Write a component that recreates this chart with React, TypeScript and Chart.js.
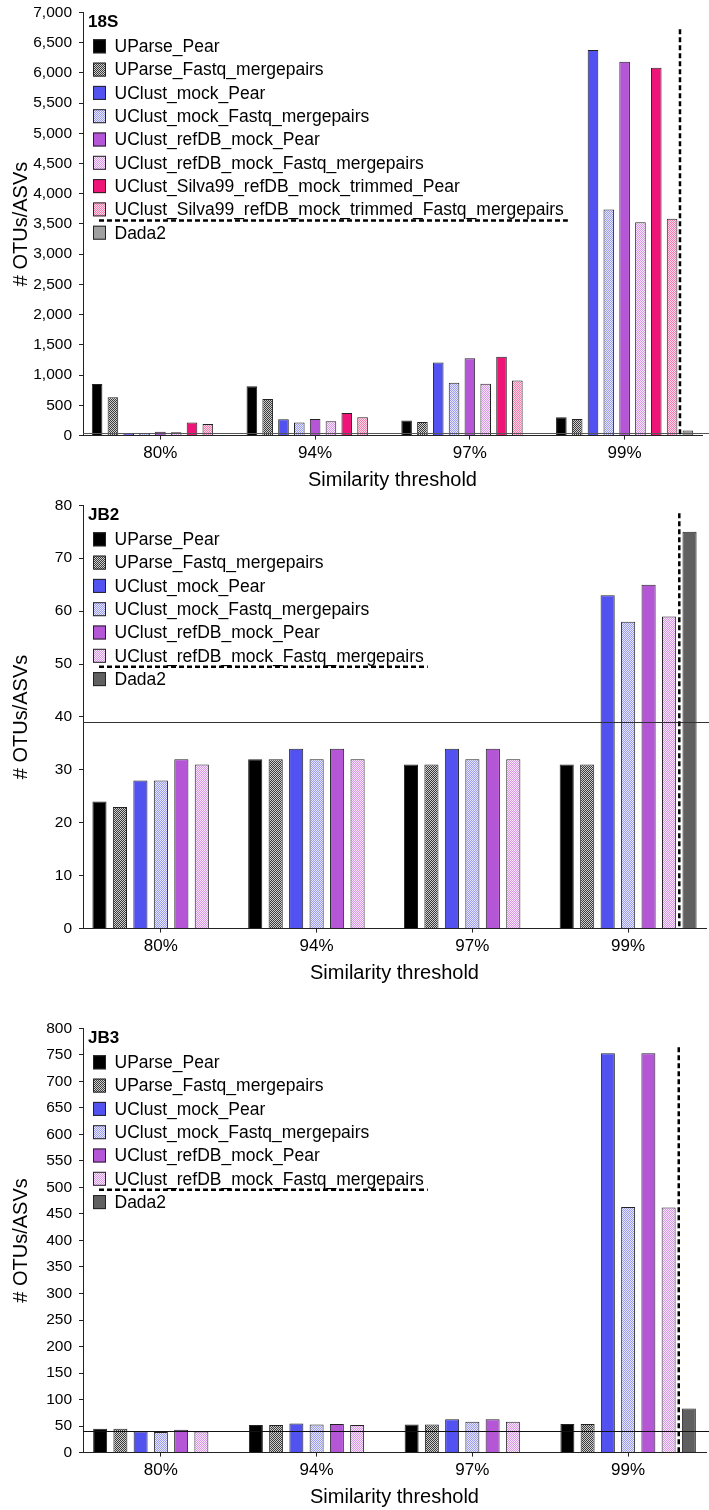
import React, { useEffect, useRef } from 'react';
import { Chart, registerables } from 'chart.js';

Chart.register(...registerables);

const FONT = '"Liberation Sans", Arial, sans-serif';

// ---------- data ----------
const categories = ['80%', '94%', '97%', '99%'];

const methods18S = [
  'UParse_Pear',
  'UParse_Fastq_mergepairs',
  'UClust_mock_Pear',
  'UClust_mock_Fastq_mergepairs',
  'UClust_refDB_mock_Pear',
  'UClust_refDB_mock_Fastq_mergepairs',
  'UClust_Silva99_refDB_mock_trimmed_Pear',
  'UClust_Silva99_refDB_mock_trimmed_Fastq_mergepairs',
  'Dada2',
];
const methodsJB = [
  'UParse_Pear',
  'UParse_Fastq_mergepairs',
  'UClust_mock_Pear',
  'UClust_mock_Fastq_mergepairs',
  'UClust_refDB_mock_Pear',
  'UClust_refDB_mock_Fastq_mergepairs',
  'Dada2',
];

// 18S
const s18UParsePear = [855, 817, 248, 304];
const s18UParseFastq = [635, 607, 226, 276];
const s18MockPear = [35, 270, 1209, 6376];
const s18MockFastq = [35, 215, 872, 3737];
const s18RefDBPear = [65, 276, 1281, 6183];
const s18RefDBFastq = [55, 237, 856, 3528];
const s18SilvaPear = [215, 375, 1303, 6084];
const s18SilvaFastq = [190, 304, 911, 3588];
const s18Dada2 = [null, null, null, 83];
const s18Expected = 44;
const s18Ticks = { max: 7000, step: 500 };

// JB2
const jb2UParsePear = [24, 32, 31, 31];
const jb2UParseFastq = [23, 32, 31, 31];
const jb2MockPear = [28, 34, 34, 63];
const jb2MockFastq = [28, 32, 32, 58];
const jb2RefDBPear = [32, 34, 34, 65];
const jb2RefDBFastq = [31, 32, 32, 59];
const jb2Dada2 = [null, null, null, 75];
const jb2Expected = 39;
const jb2Ticks = { max: 80, step: 10 };

// JB3
const jb3UParsePear = [45, 52, 53, 54];
const jb3UParseFastq = [45, 52, 53, 54];
const jb3MockPear = [40, 55, 63, 753];
const jb3MockFastq = [39, 53, 58, 463];
const jb3RefDBPear = [43, 54, 63, 753];
const jb3RefDBFastq = [40, 52, 58, 462];
const jb3Dada2 = [null, null, null, 83];
const jb3Expected = 41;
const jb3Ticks = { max: 800, step: 50 };

// ---------- styles ----------
type Fill = { solid?: string; a?: string; b?: string };
const fillsCommon: Fill[] = [
  { solid: '#000000' },
  { a: '#3a3a3a', b: '#cfcfcf' },
  { solid: '#5252f0' },
  { a: '#9c9cec', b: '#e6e6ff' },
  { solid: '#b456d6' },
  { a: '#d49ae6', b: '#fae4fc' },
];
const fillsSilva: Fill[] = [{ solid: '#ee1478' }, { a: '#f07cb0', b: '#ffd6e6' }];

function makeFill(ctx: CanvasRenderingContext2D, f: Fill): any {
  if (f.solid) return f.solid;
  const c = document.createElement('canvas');
  c.width = 2;
  c.height = 2;
  const g = c.getContext('2d')!;
  g.fillStyle = f.b!;
  g.fillRect(0, 0, 2, 2);
  g.fillStyle = f.a!;
  g.fillRect(0, 0, 1, 1);
  g.fillRect(1, 1, 1, 1);
  return ctx.createPattern(c, 'repeat');
}

const refLinesPlugin = {
  id: 'refLines',
  afterDatasetsDraw(chart: any, _args: any, opts: any) {
    const { ctx, chartArea, scales } = chart;
    const y = scales.y;
    ctx.save();
    // expected-count reference line
    const yRef = Math.round(y.getPixelForValue(opts.refValue)) + 0.5;
    ctx.strokeStyle = opts.refColor;
    ctx.lineWidth = 1.2;
    ctx.beginPath();
    ctx.moveTo(chartArea.left, yRef);
    ctx.lineTo(chart.width, yRef);
    ctx.stroke();
    // vertical dashed separator before Dada2
    const n = chart.data.datasets.length;
    const last = chart.data.labels.length - 1;
    const a = chart.getDatasetMeta(n - 2).data[last];
    const b = chart.getDatasetMeta(n - 1).data[last];
    const xd = (a.x + a.width / 2 + (b.x - b.width / 2)) / 2;
    ctx.setLineDash([5, 3]);
    ctx.lineWidth = 2.5;
    ctx.strokeStyle = '#000';
    ctx.beginPath();
    ctx.moveTo(xd, chartArea.top + opts.dashTop);
    ctx.lineTo(xd, chartArea.bottom);
    ctx.stroke();
    ctx.restore();
  },
};

const insideLegendPlugin = {
  id: 'insideLegend',
  afterDatasetsDraw(chart: any, _args: any, opts: any) {
    const { ctx, chartArea } = chart;
    const x0 = chartArea.left;
    const top = chartArea.top;
    ctx.save();
    ctx.textAlign = 'left';
    ctx.textBaseline = 'middle';
    ctx.fillStyle = '#000';
    ctx.font = `bold 17px ${FONT}`;
    ctx.fillText(opts.title, x0 + 5, top + 10);
    ctx.font = `17.5px ${FONT}`;
    let maxRight = 0;
    const dss = chart.data.datasets;
    dss.forEach((ds: any, i: number) => {
      const yc = top + 34 + i * 23.3;
      ctx.fillStyle = ds.backgroundColor;
      ctx.fillRect(x0 + 10, yc - 7, 13, 14);
      ctx.strokeStyle = '#222';
      ctx.lineWidth = 1;
      ctx.strokeRect(x0 + 10.5, yc - 6.5, 12, 13);
      ctx.fillStyle = '#000';
      ctx.fillText(ds.label, x0 + 31.5, yc + 1);
      maxRight = Math.max(maxRight, x0 + 31.5 + ctx.measureText(ds.label).width);
    });
    const ySep = top + 34 + (dss.length - 2) * 23.3 + 11;
    ctx.setLineDash([5, 3]);
    ctx.lineWidth = 2.5;
    ctx.strokeStyle = '#000';
    ctx.beginPath();
    ctx.moveTo(x0 + 16, ySep);
    ctx.lineTo(maxRight + 4, ySep);
    ctx.stroke();
    ctx.restore();
  },
};

type Spec = {
  title: string;
  labels: string[];
  series: (number | null)[][];
  fills: Fill[];
  dada2Color: string;
  expected: number;
  refColor: string;
  ticks: { max: number; step: number };
  padRight: number;
  dashTop: number;
  catPct: number;
  barPct: number;
};

function buildConfig(ctx: CanvasRenderingContext2D, s: Spec): any {
  const datasets = s.series.map((data, i) => {
    const f = i < s.fills.length ? s.fills[i] : { solid: s.dada2Color };
    return {
      label: s.labels[i],
      data,
      backgroundColor: makeFill(ctx, f),
      borderColor: '#222',
      borderWidth: 1,
      categoryPercentage: s.catPct,
      barPercentage: s.barPct,
    };
  });
  return {
    type: 'bar',
    data: { labels: categories, datasets },
    plugins: [refLinesPlugin, insideLegendPlugin],
    options: {
      responsive: false,
      animation: false,
      layout: { padding: { top: 0, right: s.padRight, bottom: 0, left: 0 } },
      plugins: {
        legend: { display: false },
        tooltip: { enabled: false },
        refLines: { refValue: s.expected, refColor: s.refColor, dashTop: s.dashTop },
        insideLegend: { title: s.title },
      },
      scales: {
        x: {
          grid: { display: true, drawOnChartArea: false, drawTicks: true, tickLength: 4, offset: false, color: '#222' },
          border: { display: true, color: '#222', width: 1 },
          ticks: { color: '#000', font: { family: FONT, size: 17 }, padding: 4, maxRotation: 0 },
          title: {
            display: true,
            text: 'Similarity threshold',
            color: '#000',
            font: { family: FONT, size: 20 },
            padding: { top: 0, bottom: 0 },
          },
        },
        y: {
          min: 0,
          max: s.ticks.max,
          afterFit: (scale: any) => {
            scale.width = 83;
          },
          grid: { display: true, drawOnChartArea: false, drawTicks: true, tickLength: 4, color: '#222' },
          border: { display: true, color: '#222', width: 1 },
          ticks: { color: '#000', font: { family: FONT, size: 15.5 }, padding: 7, stepSize: s.ticks.step, autoSkip: false },
          title: {
            display: true,
            text: '# OTUs/ASVs',
            color: '#000',
            font: { family: FONT, size: 20 },
            padding: { top: 9, bottom: 0 },
          },
        },
      },
    },
  };
}

function BarPanel({ spec, top, height }: { spec: Spec; top: number; height: number }) {
  const ref = useRef<HTMLCanvasElement>(null);
  useEffect(() => {
    const canvas = ref.current!;
    const ctx = canvas.getContext('2d')!;
    const chart = new Chart(ctx, buildConfig(ctx, spec));
    return () => chart.destroy();
  }, [spec]);
  return (
    <div style={{ position: 'absolute', left: 0, top, width: 709, height }}>
      <canvas ref={ref} width={709} height={height} style={{ width: 709, height, display: 'block' }} />
    </div>
  );
}

const spec18S: Spec = {
  title: '18S',
  labels: methods18S,
  series: [s18UParsePear, s18UParseFastq, s18MockPear, s18MockFastq, s18RefDBPear, s18RefDBFastq, s18SilvaPear, s18SilvaFastq, s18Dada2],
  fills: [...fillsCommon, ...fillsSilva],
  dada2Color: '#a0a0a0',
  expected: s18Expected,
  refColor: '#555',
  ticks: s18Ticks,
  padRight: 7,
  dashTop: 17,
  catPct: 0.92,
  barPct: 0.67,
};
const specJB2: Spec = {
  title: 'JB2',
  labels: methodsJB,
  series: [jb2UParsePear, jb2UParseFastq, jb2MockPear, jb2MockFastq, jb2RefDBPear, jb2RefDBFastq, jb2Dada2],
  fills: fillsCommon,
  dada2Color: '#606060',
  expected: jb2Expected,
  refColor: '#333',
  ticks: jb2Ticks,
  padRight: 3,
  dashTop: 8,
  catPct: 0.92,
  barPct: 0.69,
};
const specJB3: Spec = {
  title: 'JB3',
  labels: methodsJB,
  series: [jb3UParsePear, jb3UParseFastq, jb3MockPear, jb3MockFastq, jb3RefDBPear, jb3RefDBFastq, jb3Dada2],
  fills: fillsCommon,
  dada2Color: '#606060',
  expected: jb3Expected,
  refColor: '#111',
  ticks: jb3Ticks,
  padRight: 3,
  dashTop: 19,
  catPct: 0.91,
  barPct: 0.69,
};

export default function App() {
  return (
    <div style={{ position: 'absolute', left: 0, top: 0, width: 709, height: 1510, overflow: 'hidden', background: '#fff', fontFamily: FONT }}>
      <BarPanel spec={spec18S} top={-4} height={496} />
      <BarPanel spec={specJB2} top={489} height={496} />
      <BarPanel spec={specJB3} top={1012} height={497} />
    </div>
  );
}
